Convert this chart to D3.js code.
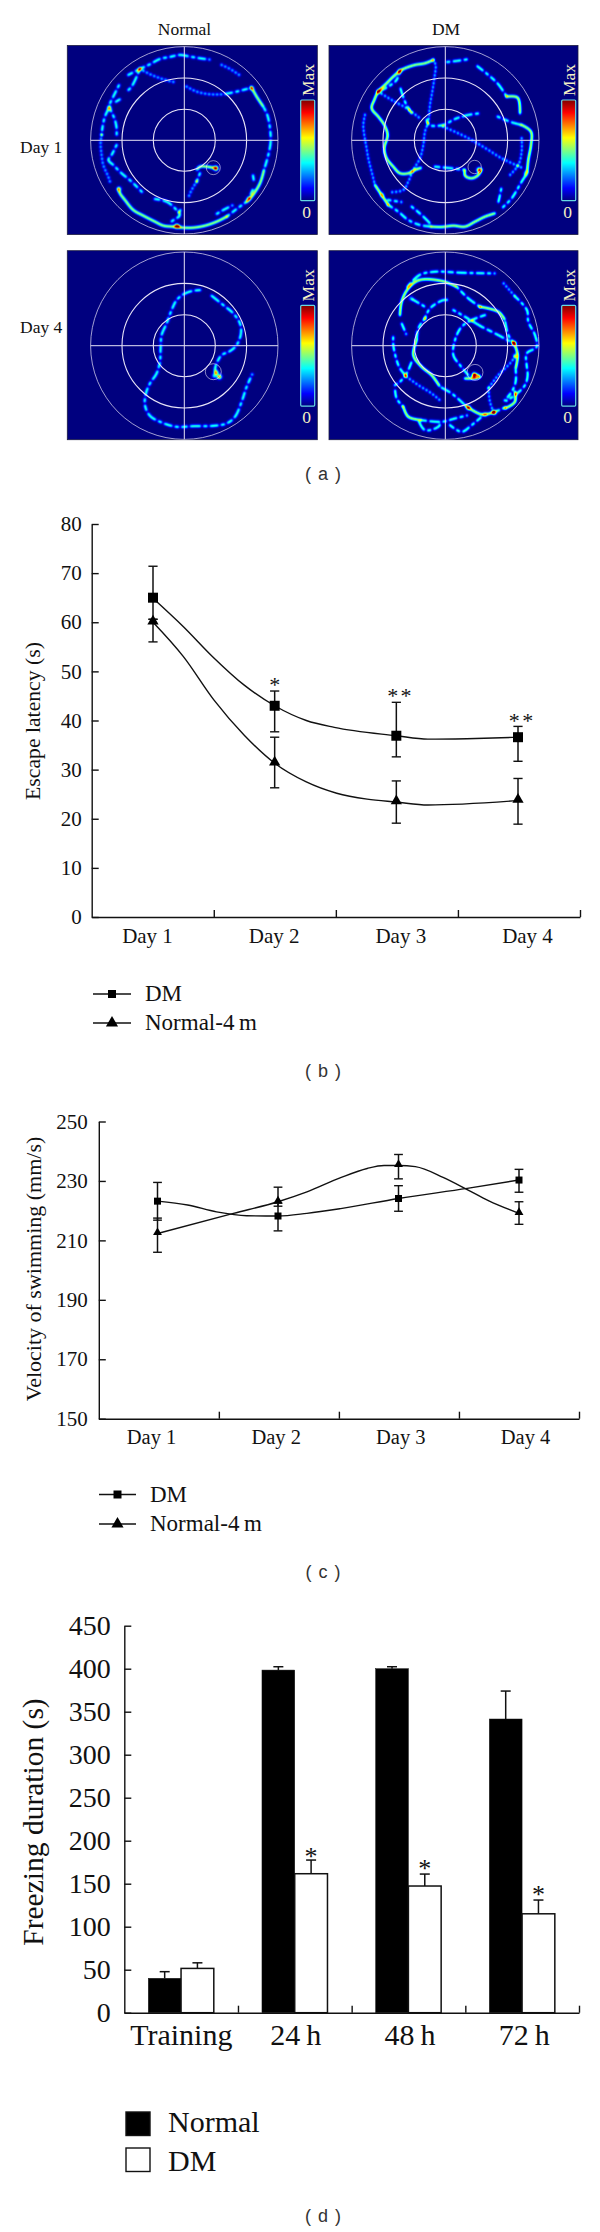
<!DOCTYPE html>
<html><head><meta charset="utf-8">
<style>html,body{margin:0;padding:0;background:#fff}svg{display:block}text{font-family:"Liberation Serif",serif;fill:#111}.cap{font-family:"Liberation Sans",sans-serif;fill:#333}</style>
<script src="https://cdn.jsdelivr.net/npm/d3@7"></script></head><body>
<script>
// (b) escape latency
const days=["Day 1","Day 2","Day 3","Day 4"];
const escTicks=[0,10,20,30,40,50,60,70,80];
const escDM=[65,43,36.9,36.6], escDMUp=[71.4,46,43.7,38.8], escDMLow=[60.6,37.7,32.6,31.7];
const escNor=[60,31.3,23.4,23.7], escNorUp=[60.6,36.6,27.7,28.2], escNorLow=[56,26.3,19.1,18.9];
const escDMCurve=[[1,64.9],[1.25,59.1],[1.49,53],[1.75,47.2],[2,43],[2.26,40],[2.49,38.6],[3,36.9],[3.26,36.2],[3.58,36.3],[4,36.6]];
const escNorCurve=[[1,60],[1.25,53],[1.5,44.2],[1.75,37],[2,31.3],[2.26,27.5],[2.51,25.2],[2.76,24],[3,23.4],[3.26,22.8],[4,23.7]];
const escStars=[[2,47.9,"*"],[2.97,45.5,"*"],[3.08,45.5,"*"],[3.97,40.5,"*"],[4.08,40.5,"*"]];
// (c) swimming velocity
const velTicks=[150,170,190,210,230,250];
const velDM=[223.2,218.2,224.1,230.3], velDMUp=[229.5,222.5,228.4,233.9], velDMLow=[216.8,213.2,219.8,226.2];
const velNor=[212.3,223,235.2,219.1], velNorUp=[217.5,227.9,238.9,223], velNorLow=[206,221.5,230.7,215.4];
const velDMCurve=[[1,223.2],[1.25,221.9],[1.49,219.6],[1.74,218.3],[2,218.2],[2.24,219.1],[2.52,220.7],[3,224.1],[3.57,227.5],[4,230.3]];
const velNorCurve=[[1,212.3],[1.63,219.1],[2,223],[2.24,226.3],[2.52,231.1],[2.74,234.2],[2.88,235.2],[3,235.2],[3.14,234.8],[3.37,231.2],[3.57,227.1],[3.75,223.3],[4,219.1]];
// (d) freezing
const frzCats=["Training","24\u2009h","48\u2009h","72\u2009h"];
const frzTicks=[0,50,100,150,200,250,300,350,400,450];
const frzNor=[40,398.4,400,341.5], frzNorErr=[47.7,402.3,402.3,374];
const frzDM=[51.5,161.6,147.3,115], frzDMErr=[58,177.5,161.2,131];
const frzStars=[186,172,141];
const tracksNormalDay1=[
[1,205,90,240,72,270,58,300,42,330,36,360,30,390,35,420,40,450,44],
[0,485,60,510,72,545,95],
[2,575,128,590,155,610,185],[1,610,185,622,210,630,250,632,290,625,330,612,375],
[2,612,375,600,415,575,455,560,470],[1,560,470,530,492,500,515],[2,500,515,470,530,435,542,400,548,370,548,340,545,310,542,285,530,250,512,220,495,195,465,180,445,175,430],
[1,240,72,215,125,200,140],[1,185,160,165,172],[1,148,187,165,225,170,250,170,275],
[1,180,115,165,145,150,175],[1,148,187,135,215,128,245,125,270],[0,125,270,122,295,125,330,130,360,145,395,150,410],
[1,170,300,155,330,145,345,160,360,185,385,215,410,250,445],[1,285,462,320,470,345,490,360,510,350,520,335,530,340,540],[1,365,490,355,505],
[0,240,72,275,90,310,103,345,112],[0,380,125,410,140,450,148,490,148],[1,490,148,530,140,575,128],
[2,468,370,440,365,420,365,410,375],[1,420,385,410,410],[0,410,410,395,435,385,458],
[1,578,385,582,410],[1,578,435,565,465],[1,465,510,490,495,520,480],[1,345,540,360,545]];
const spotsNormalDay1=[[468,370,.7],[350,543,.55],[178,432,.35],[148,187,.3],[575,130,.25],[565,462,.25]];
const tracksDMDay1=[
[0,120,210,115,240,118,270,125,310,130,340,140,380,150,420],[2,150,420,170,450,190,480],[1,190,480,220,500,250,525,285,540,320,545],
[2,325,45,300,55,270,60,240,70,225,78,205,95,185,115,160,140,148,165,140,190,160,215,178,240,188,270,178,310,185,340,205,365,225,385,250,385,270,375,290,368],
[1,160,140,190,125,215,105,225,78],
[0,325,45,332,60,328,100,322,140,315,180,310,230,300,260,295,300,285,340,265,375,250,410,235,435,190,442],
[0,160,140,200,165,245,190,285,220],[0,355,245,400,265,440,285,490,315,530,340,595,370],
[1,225,125,240,170,260,205],[1,305,225,312,240,355,240,390,222,430,210,465,205],
[1,360,52,395,48,435,42],[1,452,60,490,90,520,118,545,155],[2,545,155,578,158,585,205],
[1,518,215,560,232,590,240],[2,590,240,618,260,618,300,610,345,606,385],[1,606,385,590,410,560,460,530,490],
[0,590,280,590,320,580,360,550,395],[1,530,425,525,450,518,480],
[2,320,545,350,546,385,542,420,545,450,530,480,515,510,505],
[1,190,465,235,472],[1,260,485,290,510,320,540],
[1,330,365,380,370,420,375],[2,420,375,420,392,440,400,460,390,470,370]];
const spotsDMDay1=[[462,375,.75],[603,385,.35],[225,78,.3],[160,140,.3],[172,450,.25]];
const tracksNormalDay4=[
[1,420,15,395,18,370,28,350,45,335,75,320,115,305,150,302,190,300,230,290,265,270,295,258,325,255,360,270,392,305,412,350,425,400,423,460,422,500,415,525,395,545,350,560,305,578,265],
[1,450,28,490,60,520,85,540,115,543,145,530,180,510,198,485,210,470,235,465,255,470,270]];
const spotsNormalDay4=[[470,262,.4],[478,275,.75],[463,272,.35]];
const tracksDMDay4=[
[1,248,5,283,-30,329,-40,410,-37,513,-35],[0,536,-5,571,35],[1,571,35,606,75,610,110,630,150,635,185,605,205,605,240,608,270,600,300,570,330,540,350],
[1,205,150,205,180,215,225,225,250,245,275],[0,245,275,280,300,320,325,350,350],
[2,225,90,230,50,250,10,283,-15,352,-12,395,5],[1,395,5,430,40,465,65],[2,465,65,520,80,540,105],[1,540,105,550,150,568,175],[2,568,175,578,210,572,250],[1,572,250,572,290,560,320,535,350],
[1,258,40,300,65],[1,300,100,315,70,355,45,370,45],
[1,300,100,280,130,275,165],[2,275,165,265,210,290,245,320,270,345,305],[1,345,305,380,325,420,360],[2,420,360,470,388,510,380],[1,510,380,545,365],
[1,228,110,245,150],[1,385,75,420,95,470,125],[1,470,125,520,150,565,175],
[1,480,90,440,105,410,125,390,165,385,210,405,240,430,270],[2,420,280,440,280,465,275,445,265],
[0,570,215,555,235,520,270,490,310],[0,490,310,495,350,505,380],
[1,210,310,215,340,235,365],[1,210,300,225,290,245,265,260,230],
[2,235,365,250,395,290,405],[1,290,405,350,410,390,400,430,390],
[1,280,405,300,435,340,425,350,410],[1,375,420,410,440,440,420,470,395],
[2,570,320,570,350,540,370]];
const spotsDMDay4=[[447,272,.8],[430,368,.5],[508,382,.6],[568,175,.55],[570,212,.3],[258,40,.25],[480,388,.3]];
const poolLabels=["Normal","DM"], trialLabels=["Day 1","Day 4"];

const svg=d3.select("body").append("svg").attr("width",600).attr("height",2232);
const jetStops=[0,.125,.375,.625,.875,1];
const jet=d3.scaleLinear().domain(jetStops).range(["#00007f","#0000ff","#00ffff","#ffff00","#ff0000","#7f0000"]).clamp(true);
const defs=svg.append("defs");
const grad=defs.append("linearGradient").attr("id","jet").attr("x1",0).attr("x2",0).attr("y1",1).attr("y2",0);
jetStops.forEach(s=>grad.append("stop").attr("offset",s).attr("stop-color",jet(s)));

const panels=[
 {l:67.3,r:316.7,t:45.5,b:234,cx:184.3,cy:140.3,ox:373,oy:286,tr:tracksNormalDay1,sp:spotsNormalDay1,pl:[460,368,21],bar:300.7},
 {l:329,r:577.7,t:45.5,b:234,cx:445.3,cy:140.3,ox:361,oy:286,tr:tracksDMDay1,sp:spotsDMDay1,pl:[449,366,20],bar:561.7},
 {l:67.3,r:316.7,t:250.7,b:439,cx:184.3,cy:345.7,ox:373,oy:182,tr:tracksNormalDay4,sp:spotsNormalDay4,pl:[460,260,24],bar:300.7},
 {l:329,r:577.7,t:250.7,b:439,cx:445.3,cy:345.7,ox:361,oy:182,tr:tracksDMDay4,sp:spotsDMDay4,pl:[450,262,24],bar:561.7}];
const R=93.7;
const spacing=[4,2.2,1.7];
const dashOn=[1,1,1,0,1,1,1,1,1,0,1,1,0,1,1,1,1,0,1,1,0];
panels.forEach((p,pi)=>{
 const X=d3.scaleLinear().domain([p.ox-281,p.ox+281]).range([p.cx-R,p.cx+R]);
 const Y=d3.scaleLinear().domain([p.oy-281,p.oy+281]).range([p.cy-R,p.cy+R]);
 const w=Math.ceil(p.r-p.l), h=Math.ceil(p.b-p.t);
 const heat=new Float32Array(w*h);
 const add=(x,y,a,s)=>{const px=x-p.l,py=y-p.t,rad=Math.ceil(s*3);
  for(let j=Math.max(0,Math.floor(py-rad));j<=Math.min(h-1,py+rad);j++)for(let i=Math.max(0,Math.floor(px-rad));i<=Math.min(w-1,px+rad);i++){
   const dx=i+.5-px,dy=j+.5-py;heat[j*w+i]+=a*Math.exp(-(dx*dx+dy*dy)/(2*s*s));}};
 const line=d3.line().x(d=>X(d[0])).y(d=>Y(d[1])).curve(d3.curveCatmullRom);
 const probe=defs.append("path");
 p.tr.forEach((t,ti)=>{
  const cls=t[0],pts=[];for(let i=1;i<t.length;i+=2)pts.push([t[i],t[i+1]]);
  probe.attr("d",line(pts));
  const node=probe.node(),len=node.getTotalLength(),st=spacing[cls];
  let n=ti*3;
  for(let d=0;d<=len;d+=st,n++){
   if(cls===1&&!dashOn[n%dashOn.length])continue;
   const q=node.getPointAtLength(d);add(q.x,q.y,.3,1.2);}
 });
 probe.remove();
 p.sp.forEach(s=>add(X(s[0]),Y(s[1]),s[2],1.7));
 const cv=document.createElement("canvas");cv.width=w;cv.height=h;
 const ctx=cv.getContext("2d"),img=ctx.createImageData(w,h);
 for(let k=0;k<w*h;k++){const c=d3.rgb(jet(heat[k]));img.data[k*4]=c.r;img.data[k*4+1]=c.g;img.data[k*4+2]=c.b;img.data[k*4+3]=255;}
 ctx.putImageData(img,0,0);
 const g=svg.append("g");
 g.append("image").attr("x",p.l).attr("y",p.t).attr("width",w).attr("height",h).attr("href",cv.toDataURL());
 g.append("rect").attr("x",p.l).attr("y",p.t).attr("width",w).attr("height",h).attr("fill","none").attr("stroke","#1c1c40").attr("stroke-width",.8);
 const clip="c"+pi;defs.append("clipPath").attr("id",clip).append("rect").attr("x",p.l).attr("y",p.t-1).attr("width",w).attr("height",h+1);
 const rg=g.append("g").attr("clip-path",`url(#${clip})`).attr("fill","none").attr("stroke","#e6e2f6");
 rg.append("circle").attr("cx",p.cx).attr("cy",p.cy).attr("r",R).attr("stroke-width",.7);
 rg.append("circle").attr("cx",p.cx).attr("cy",p.cy).attr("r",R*.665).attr("stroke-width",1.1);
 rg.append("circle").attr("cx",p.cx).attr("cy",p.cy).attr("r",R*.331).attr("stroke-width",1.1);
 rg.append("line").attr("x1",p.cx-R).attr("x2",p.cx+R).attr("y1",p.cy).attr("y2",p.cy).attr("stroke-width",1);
 rg.append("line").attr("x1",p.cx).attr("x2",p.cx).attr("y1",p.cy-R).attr("y2",p.cy+R).attr("stroke-width",1);
 rg.append("circle").attr("cx",X(p.pl[0])).attr("cy",Y(p.pl[1])).attr("r",p.pl[2]/3).attr("stroke-width",.6);
 const top=p.cy-40.3;
 g.append("rect").attr("x",p.bar).attr("y",top).attr("width",14).attr("height",100.7).attr("rx",1).attr("fill","url(#jet)").attr("stroke","#66d8e4").attr("stroke-width",1.2);
 g.append("text").attr("transform",`translate(${p.bar+13.5},${top-20}) rotate(-90)`).attr("text-anchor","middle").attr("font-size",17.5).style("fill","#f4efc4").text("Max");
 g.append("text").attr("x",p.bar+6).attr("y",top+118).attr("text-anchor","middle").attr("font-size",17.5).style("fill","#f4efc4").text("0");
});
poolLabels.forEach((t,i)=>svg.append("text").attr("x",[184.5,446][i]).attr("y",34.5).attr("text-anchor","middle").attr("font-size",17.5).text(t));
trialLabels.forEach((t,i)=>svg.append("text").attr("x",20).attr("y",[153,333][i]).attr("font-size",17.5).text(t));

function caption(t,y){svg.append("text").attr("class","cap").attr("x",323).attr("y",y).attr("text-anchor","middle").attr("font-size",18).style("word-spacing","2px").text(`( ${t} )`);}
caption("a",480);caption("b",1077);caption("c",1578);caption("d",2222);

function axes(o){
 const g=svg.append("g");
 const y=d3.scaleLinear().domain(d3.extent(o.ticks)).range([o.y0,o.y1]);
 const bound=d3.scaleLinear().domain([0,4]).range([o.x0,o.x1]);
 const labels=d3.scalePoint().domain(o.cats).range(o.labelRange);
 const ay=g.append("g").attr("transform",`translate(${o.x0},0)`).call(d3.axisLeft(y).tickValues(o.ticks).tickFormat(d3.format("d")).tickSizeInner(-7).tickSizeOuter(0).tickPadding(o.pad));
 const ax=g.append("g").attr("transform",`translate(0,${o.y0})`).call(d3.axisBottom(bound).tickValues([1,2,3,4]).tickFormat("").tickSizeInner(-7).tickSizeOuter(0));
 const lb=g.append("g").attr("transform",`translate(0,${o.y0})`).call(d3.axisBottom(labels).tickSize(0).tickPadding(0));
 lb.select(".domain").remove();
 lb.selectAll("text").attr("y",o.labelDy).attr("dy",0).attr("font-size",o.catSize);
 g.selectAll("path.domain,line").attr("stroke","#111").attr("stroke-width",1.4);
 ay.selectAll("text").attr("font-size",o.size);
 g.selectAll("text").style("font-family",'"Liberation Serif",serif');
 g.append("text").attr("transform",`translate(${o.titleX},${o.titleY}) rotate(-90)`).attr("text-anchor","middle").attr("font-size",o.titleSize).text(o.title);
 return y;
}
function lineChart(o){
 const y=axes(o);
 const x=d3.scaleLinear().domain([1,4]).range(o.ptRange);
 const line=d3.line().x(d=>x(d[0])).y(d=>y(d[1])).curve(d3.curveMonotoneX);
 const g=svg.append("g");
 o.series.forEach(s=>{
  g.append("path").attr("d",line(s.curve)).attr("fill","none").attr("stroke","#111").attr("stroke-width",1.4);
  s.vals.forEach((v,i)=>{
   const px=x(i+1);
   g.append("line").attr("x1",px).attr("x2",px).attr("y1",y(s.up[i])).attr("y2",y(s.low[i])).attr("stroke","#111").attr("stroke-width",1.5);
   [s.up[i],s.low[i]].forEach(e=>g.append("line").attr("x1",px-o.cap).attr("x2",px+o.cap).attr("y1",y(e)).attr("y2",y(e)).attr("stroke","#111").attr("stroke-width",1.4));
   g.append("path").attr("d",d3.symbol().type(s.sym).size(s.size)()).attr("transform",`translate(${px},${y(v)+(s.sym===d3.symbolTriangle?-1:0)})`).attr("fill","#000");
  });
 });
 (o.stars||[]).forEach(s=>svg.append("text").attr("x",x(s[0])).attr("y",y(s[1])+10).attr("text-anchor","middle").attr("font-size",22).text(s[2]));
 const lg=svg.append("g");
 [["DM",d3.symbolSquare,o.legY[0],o.legY[2],64],["Normal-4\u2009m",d3.symbolTriangle,o.legY[1],o.legY[3],64]].forEach(d=>{
  lg.append("line").attr("x1",o.legX[0]).attr("x2",o.legX[1]).attr("y1",d[2]).attr("y2",d[2]).attr("stroke","#111").attr("stroke-width",1.4);
  lg.append("path").attr("d",d3.symbol().type(d[1]).size(d[4])()).attr("transform",`translate(${(o.legX[0]+o.legX[1])/2},${d[2]})`).attr("fill","#000");
  lg.append("text").attr("x",o.legX[2]).attr("y",d[3]).attr("font-size",23).text(d[0]);
 });
}
lineChart({ticks:escTicks,cats:days,x0:91.7,x1:580,y0:917,y1:524,labelRange:[147,527],labelDy:26,pad:10,size:21,catSize:21,titleSize:21.7,titleX:40,titleY:721,title:"Escape latency (s)",
 ptRange:[153,518],cap:4.6,stars:escStars,legX:[93,131,145],legY:[994,1023,1001,1030],
 series:[{vals:escDM,up:escDMUp,low:escDMLow,curve:escDMCurve,sym:d3.symbolSquare,size:100},{vals:escNor,up:escNorUp,low:escNorLow,curve:escNorCurve,sym:d3.symbolTriangle,size:55}]});
lineChart({ticks:velTicks,cats:days,x0:98.8,x1:579,y0:1418.7,y1:1121.5,labelRange:[151,525],labelDy:25,pad:11,size:21,catSize:20.5,titleSize:22,titleX:41,titleY:1269,title:"Velocity of swimming (mm/s)",
 ptRange:[157.5,519],cap:4.4,legX:[99,136,150],legY:[1494.5,1524,1502,1530.5],
 series:[{vals:velDM,up:velDMUp,low:velDMLow,curve:velDMCurve,sym:d3.symbolSquare,size:49},{vals:velNor,up:velNorUp,low:velNorLow,curve:velNorCurve,sym:d3.symbolTriangle,size:34}]});

// (d)
const yF=axes({ticks:frzTicks,cats:frzCats,x0:124.3,x1:579,y0:2012.7,y1:1625.7,labelRange:[180.8,523.8],labelDy:32,pad:13.5,size:28,catSize:30,titleSize:29.5,titleX:43,titleY:1822,title:"Freezing duration (s)"});
const xF=d3.scaleBand().domain(frzCats).range([124.3,579]);
const inner=d3.scaleBand().domain(["Normal","DM"]).range([24,89.5]);
const gF=svg.append("g");
frzCats.forEach((c,i)=>{
 [["Normal",frzNor,frzNorErr,"#000"],["DM",frzDM,frzDMErr,"#fff"]].forEach(d=>{
  const x=xF(c)+inner(d[0]),bw=inner.bandwidth(),mid=x+bw/2;
  gF.append("line").attr("x1",mid).attr("x2",mid).attr("y1",yF(d[1][i])).attr("y2",yF(d[2][i])).attr("stroke","#111").attr("stroke-width",1.5);
  gF.append("line").attr("x1",mid-5).attr("x2",mid+5).attr("y1",yF(d[2][i])).attr("y2",yF(d[2][i])).attr("stroke","#111").attr("stroke-width",1.5);
  gF.append("rect").attr("x",x).attr("y",yF(d[1][i])).attr("width",bw).attr("height",yF(0)-yF(d[1][i])).attr("fill",d[3]).attr("stroke","#111").attr("stroke-width",d[3]==="#fff"?1.5:.5);
 });
 if(i>0)gF.append("text").attr("x",xF(c)+inner("DM")+inner.bandwidth()/2).attr("y",yF(frzStars[i-1])+12).attr("text-anchor","middle").attr("font-size",26).text("*");
});
[["Normal","#000",2112,2132],["DM","#fff",2148,2171]].forEach(d=>{
 svg.append("rect").attr("x",126).attr("y",d[2]).attr("width",24).attr("height",23.5).attr("fill",d[1]).attr("stroke","#111").attr("stroke-width",1.4);
 svg.append("text").attr("x",168).attr("y",d[3]).attr("font-size",30).text(d[0]);
});
</script></body></html>
